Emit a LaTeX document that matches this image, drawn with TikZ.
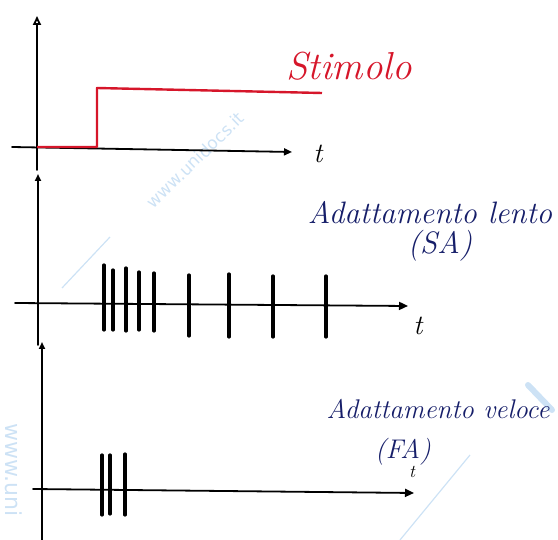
\documentclass[tikz,border=0pt]{standalone}
\usepackage{fontspec}
\setsansfont{DejaVu Sans}
\usetikzlibrary{arrows.meta}
\definecolor{stimred}{RGB}{214,22,42}
\definecolor{inkblue}{RGB}{22,30,105}
\definecolor{wmblue}{RGB}{205,226,245}
\begin{document}
\begin{tikzpicture}[x=1pt,y=-1pt,
  axis/.style={line width=1.8pt, line cap=round, black},
  spike/.style={line width=3.2pt, line cap=round, black},
  stim/.style={line width=2.4pt, stimred, line join=round},
  lbl/.style={inkblue, font=\itshape\fontsize{31}{31}\selectfont, inner sep=0pt},
  tlbl/.style={font=\itshape\fontsize{28}{28}\selectfont, inner sep=0pt},
  wm/.style={wmblue, font=\sffamily\fontsize{17}{17}\selectfont, inner sep=0pt},
  wmline/.style={wmblue, line width=1.2pt}]
\useasboundingbox (0,0) rectangle (558,540);
% watermark
\node[wm, rotate=44] (wm1) at (195,160) {www.unidocs.it};
\node[wm, rotate=-90, font=\sffamily\fontsize{22}{22}\selectfont] (wm2) at (14,470) {www.uni};
\draw[wmline] (62,288) -- (110,237);
\draw[wmline] (470,455) -- (400,540);
\draw[wmblue, line width=6pt, line cap=round] (528,385) -- (552,410);
% panel 1
\coordinate (y1b) at (37,170);
\coordinate (y1t) at (37,16);
\coordinate (x1l) at (12,147);
\coordinate (x1r) at (292,152);
\draw[axis,-{Triangle[open,length=9pt,width=8pt]}] (y1b) -- (y1t);
\draw[axis,-{Triangle[length=8pt,width=7pt]}] (x1l) -- (x1r);
\node[tlbl] (t1) at (318,154) {t};
\coordinate (s0) at (37,147);
\coordinate (s1) at (97,147);
\coordinate (s2) at (97,88);
\coordinate (s3) at (322,93);
\draw[stim] (s0) -- (s1) -- (s2) -- (s3);
\node[stimred, font=\itshape\fontsize{39}{39}\selectfont, inner sep=0pt] (stimolo) at (349,66) {Stimolo};
% panel 2
\coordinate (y2b) at (38,345);
\coordinate (y2t) at (38,174);
\coordinate (x2l) at (15,303);
\coordinate (x2r) at (408,306);
\draw[axis,-{Triangle[length=7pt,width=6pt]}] (y2b) -- (y2t);
\draw[axis,-{Triangle[length=9pt,width=8pt]}] (x2l) -- (x2r);
\node[tlbl] (t2) at (418,326) {t};
\foreach \x/\a/\b in {104/265/330, 113/270/330, 126/268/331, 139/272/330, 154/273/331, 189/275/336, 229/274/337, 273/276/337, 326/276/337}
  \draw[spike] (\x,\a) -- (\x,\b);
\node[lbl] (sa1) at (430,213) {Adattamento lento};
\node[lbl] (sa2) at (440,246) {(SA)};
% panel 3
\coordinate (y3b) at (42,540);
\coordinate (y3t) at (42,342);
\coordinate (x3l) at (33,489);
\coordinate (x3r) at (414,493);
\draw[axis,-{Triangle[length=7pt,width=6pt]}] (y3b) -- (y3t);
\draw[axis,-{Triangle[length=9pt,width=8pt]}] (x3l) -- (x3r);
\node[tlbl, font=\itshape\fontsize{18}{18}\selectfont] (t3) at (412,472) {t};
\foreach \x/\a/\b in {102/455/515, 110/455/514, 125/454/515}
  \draw[spike] (\x,\a) -- (\x,\b);
\node[lbl, font=\itshape\fontsize{27}{27}\selectfont] (fa1) at (438,409) {Adattamento veloce};
\node[lbl, font=\itshape\fontsize{27}{27}\selectfont] (fa2) at (403,452) {(FA)};
\end{tikzpicture}
\end{document}
